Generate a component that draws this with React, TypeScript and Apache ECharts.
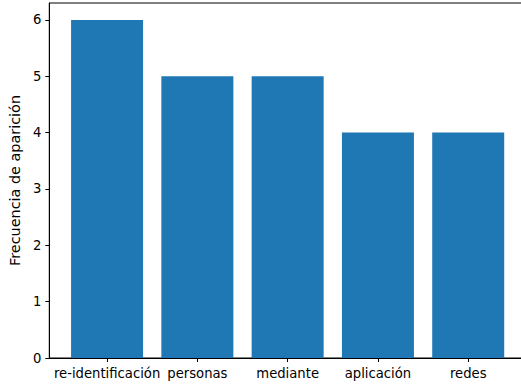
import React, { useEffect, useRef } from "react";
import * as echarts from "echarts";

const categories = ["re-identificación", "personas", "mediante", "aplicación", "redes"];
const values = [6, 5, 5, 4, 4];
const yTicks = [0, 1, 2, 3, 4, 5, 6];
const yAxisTitle = "Frecuencia de aparición";

export default function App() {
  const ref = useRef<HTMLDivElement>(null);
  useEffect(() => {
    if (!ref.current) return;
    const chart = echarts.init(ref.current, undefined, { renderer: "svg" });
    const font = "DejaVu Sans";
    const fs = 13.2;
    const xIdx = categories.map((_, i) => i);
    chart.setOption({
      animation: false,
      grid: {
        left: 49,
        right: 1,
        top: 3,
        bottom: 28,
        show: true,
        borderColor: "#000",
        borderWidth: 1,
        backgroundColor: "transparent",
      },
      xAxis: {
        type: "value",
        min: -0.64,
        max: categories.length - 1 + 0.64,
        axisLine: { show: true, onZero: false, lineStyle: { color: "#000", width: 1 } },
        axisTick: { show: true, length: 4, lineStyle: { color: "#000" }, customValues: xIdx },
        axisLabel: {
          customValues: xIdx,
          color: "#000",
          fontFamily: font,
          fontSize: fs,
          margin: 9,
          formatter: (v: number) => categories[Math.round(v)] ?? "",
        },
        splitLine: { show: false },
      },
      yAxis: {
        type: "value",
        min: 0,
        max: 6.3,
        name: yAxisTitle,
        nameLocation: "middle",
        nameGap: 25,
        nameTextStyle: { color: "#000", fontFamily: font, fontSize: 14.4 },
        axisLine: { show: true, onZero: false, lineStyle: { color: "#000", width: 1 } },
        axisTick: { show: true, length: 4, lineStyle: { color: "#000" }, customValues: yTicks },
        axisLabel: {
          customValues: yTicks,
          color: "#000",
          fontFamily: font,
          fontSize: fs,
          margin: 8,
        },
        splitLine: { show: false },
      },
      series: [
        {
          type: "bar",
          data: values.map((v, i) => [i, v]),
          barWidth: 72,
          itemStyle: { color: "#1f77b4" },
        },
      ],
    });
    return () => chart.dispose();
  }, []);
  return (
    <div style={{ position: "absolute", left: 0, top: 0, width: 521, height: 386, overflow: "hidden" }}>
      <div ref={ref} style={{ width: 527, height: 386 }} />
    </div>
  );
}
